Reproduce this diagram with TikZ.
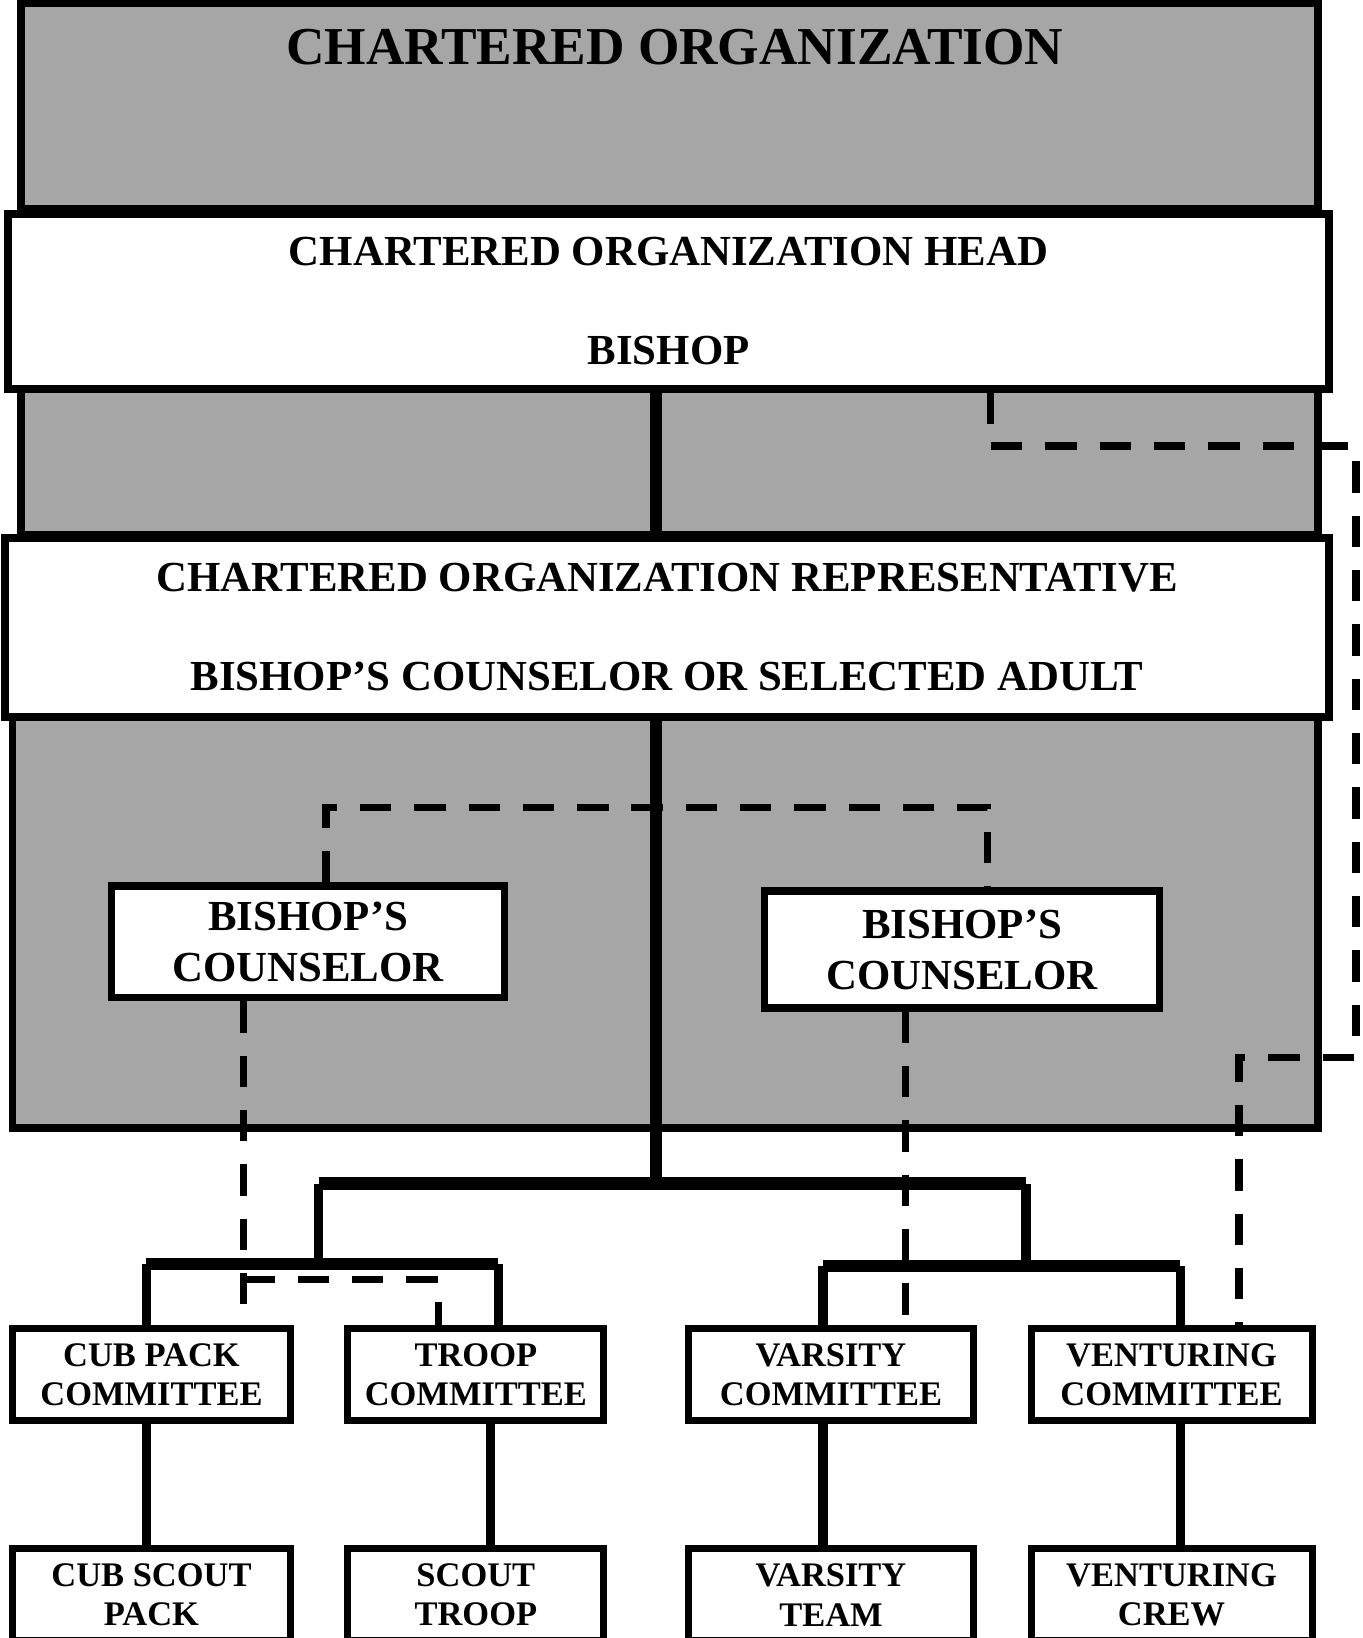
\documentclass[tikz,border=0pt]{standalone}
\usepackage{fontspec}
\setmainfont{Liberation Serif}
\usetikzlibrary{positioning}

\begin{document}
\begin{tikzpicture}[x=0.5pt,y=-0.5pt,font=\bfseries]
	\tikzstyle{band}=[draw=black, line width=3.75pt, fill=black!35]
	\tikzstyle{wide box}=[rectangle, draw=black, line width=3.75pt, fill=white, align=center, inner sep=0pt, font=\bfseries\fontsize{20.5}{47.5}\selectfont]
	\tikzstyle{counsel box}=[rectangle, draw=black, line width=3.5pt, fill=white, align=center, inner sep=0pt, font=\bfseries\fontsize{20.5}{24.5}\selectfont]
	\tikzstyle{unit box}=[rectangle, draw=black, line width=3.3pt, fill=white, align=center, inner sep=0pt, minimum height=44pt, font=\bfseries\fontsize{16.5}{19}\selectfont]
	\tikzstyle{link}=[line width=4.5pt]
	\tikzstyle{bar}=[line width=6pt]
	\tikzstyle{dash link}=[line width=3.5pt, dash pattern=on 15pt off 11pt]

	\useasboundingbox (0,0) rectangle (1304,1568);

	% shaded bands
	\draw[band] (20,3) rectangle (1262,200);
	\draw[band] (20,372) rectangle (1262,512);
	\draw[band] (12,686) rectangle (1262,1080);

	\node (charter) at (646,45) {\fontsize{25.5}{30}\selectfont CHARTERED ORGANIZATION};
	\node[wide box, minimum width=632pt, minimum height=83.5pt] (head) at (640,288.5)
		{CHARTERED ORGANIZATION HEAD\\BISHOP};
	\node[wide box, minimum width=633.5pt, minimum height=85.5pt] (rep) at (638.5,600.5)
		{CHARTERED ORGANIZATION REPRESENTATIVE\\BISHOP'S COUNSELOR OR SELECTED ADULT};

	\node[counsel box, minimum width=188pt, minimum height=53.5pt] (couns1) at (295,901.5) {BISHOP'S\\COUNSELOR};
	\node[counsel box, minimum width=189pt, minimum height=56pt] (couns2) at (921,909) {BISHOP'S\\COUNSELOR};

	% committees
	\node[unit box, minimum width=133pt] (cubcom) at (145,1316) {CUB PACK\\COMMITTEE};
	\node[unit box, minimum width=122.5pt] (troopcom) at (455.5,1316) {TROOP\\COMMITTEE};
	\node[unit box, minimum width=136.5pt] (varcom) at (795.5,1316) {VARSITY\\COMMITTEE};
	\node[unit box, minimum width=134.5pt] (ventcom) at (1121.5,1316) {VENTURING\\COMMITTEE};

	% units
	\node[unit box, minimum width=133pt] (pack) [below=58pt of cubcom] {CUB SCOUT\\PACK};
	\node[unit box, minimum width=122.5pt] (troop) [below=58pt of troopcom] {SCOUT\\TROOP};
	\node[unit box, minimum width=136.5pt] (team) [below=58pt of varcom] {VARSITY\\TEAM};
	\node[unit box, minimum width=134.5pt] (crew) [below=58pt of ventcom] {VENTURING\\CREW};

	\coordinate (hub) at (628,1133);
	\coordinate (lhub) at (305,1210);
	\coordinate (rhub) at (982,1212);
	\coordinate (d1) at (140,1210);
	\coordinate (d2) at (477,1210);
	\coordinate (d3) at (788,1212);
	\coordinate (d4) at (1130,1212);

	\draw[bar] (head.south -| hub) -- (rep.north -| hub);
	\draw[bar] (rep.south -| hub) -- (hub);
	\draw[bar] (lhub |- hub) -- (rhub |- hub);
	\draw[link] (lhub |- hub) -- (lhub);
	\draw[link] (rhub |- hub) -- (rhub);
	\draw[bar] (d1) -- (d2);
	\draw[bar] (d3) -- (d4);
	\draw[link] (d1) -- (cubcom.north -| d1);
	\draw[link] (d2) -- (troopcom.north -| d2);
	\draw[link] (d3) -- (varcom.north -| d3);
	\draw[link] (d4) -- (ventcom.north -| d4);

	\draw[link] (cubcom.south -| d1) -- (pack.north -| d1);
	\draw[link] ([xshift=7pt]troopcom.south) -- ([xshift=7pt]troop.north);
	\draw[link] (varcom.south -| d3) -- (team.north -| d3);
	\draw[link] (ventcom.south -| d4) -- (crew.north -| d4);

	% dashed lines
	\coordinate (h1) at (948,427);
	\coordinate (h2) at (1298,427);
	\coordinate (h3) at (1298,1012);
	\coordinate (h4) at (1186,1012);
	\draw[dash link] (head.south -| h1) -- (h1) -- (h2) -- (h3) -- (h4) -- (ventcom.north -| h4);

	\coordinate (k1) at (312,773);
	\coordinate (k2) at (945,773);
	\draw[dash link] (couns1.north -| k1) -- (k1) -- (k2) -- (couns2.north -| k2);

	\coordinate (k3) at (233,1225);
	\coordinate (k4) at (420,1225);
	\coordinate (k5) at (867,1225);
	\draw[dash link] (couns1.south -| k3) -- (cubcom.north -| k3);
	\draw[dash link] (k3) -- (k4) -- (troopcom.north -| k4);
	\draw[dash link] (couns2.south -| k5) -- (varcom.north -| k5);
\end{tikzpicture}
\end{document}
